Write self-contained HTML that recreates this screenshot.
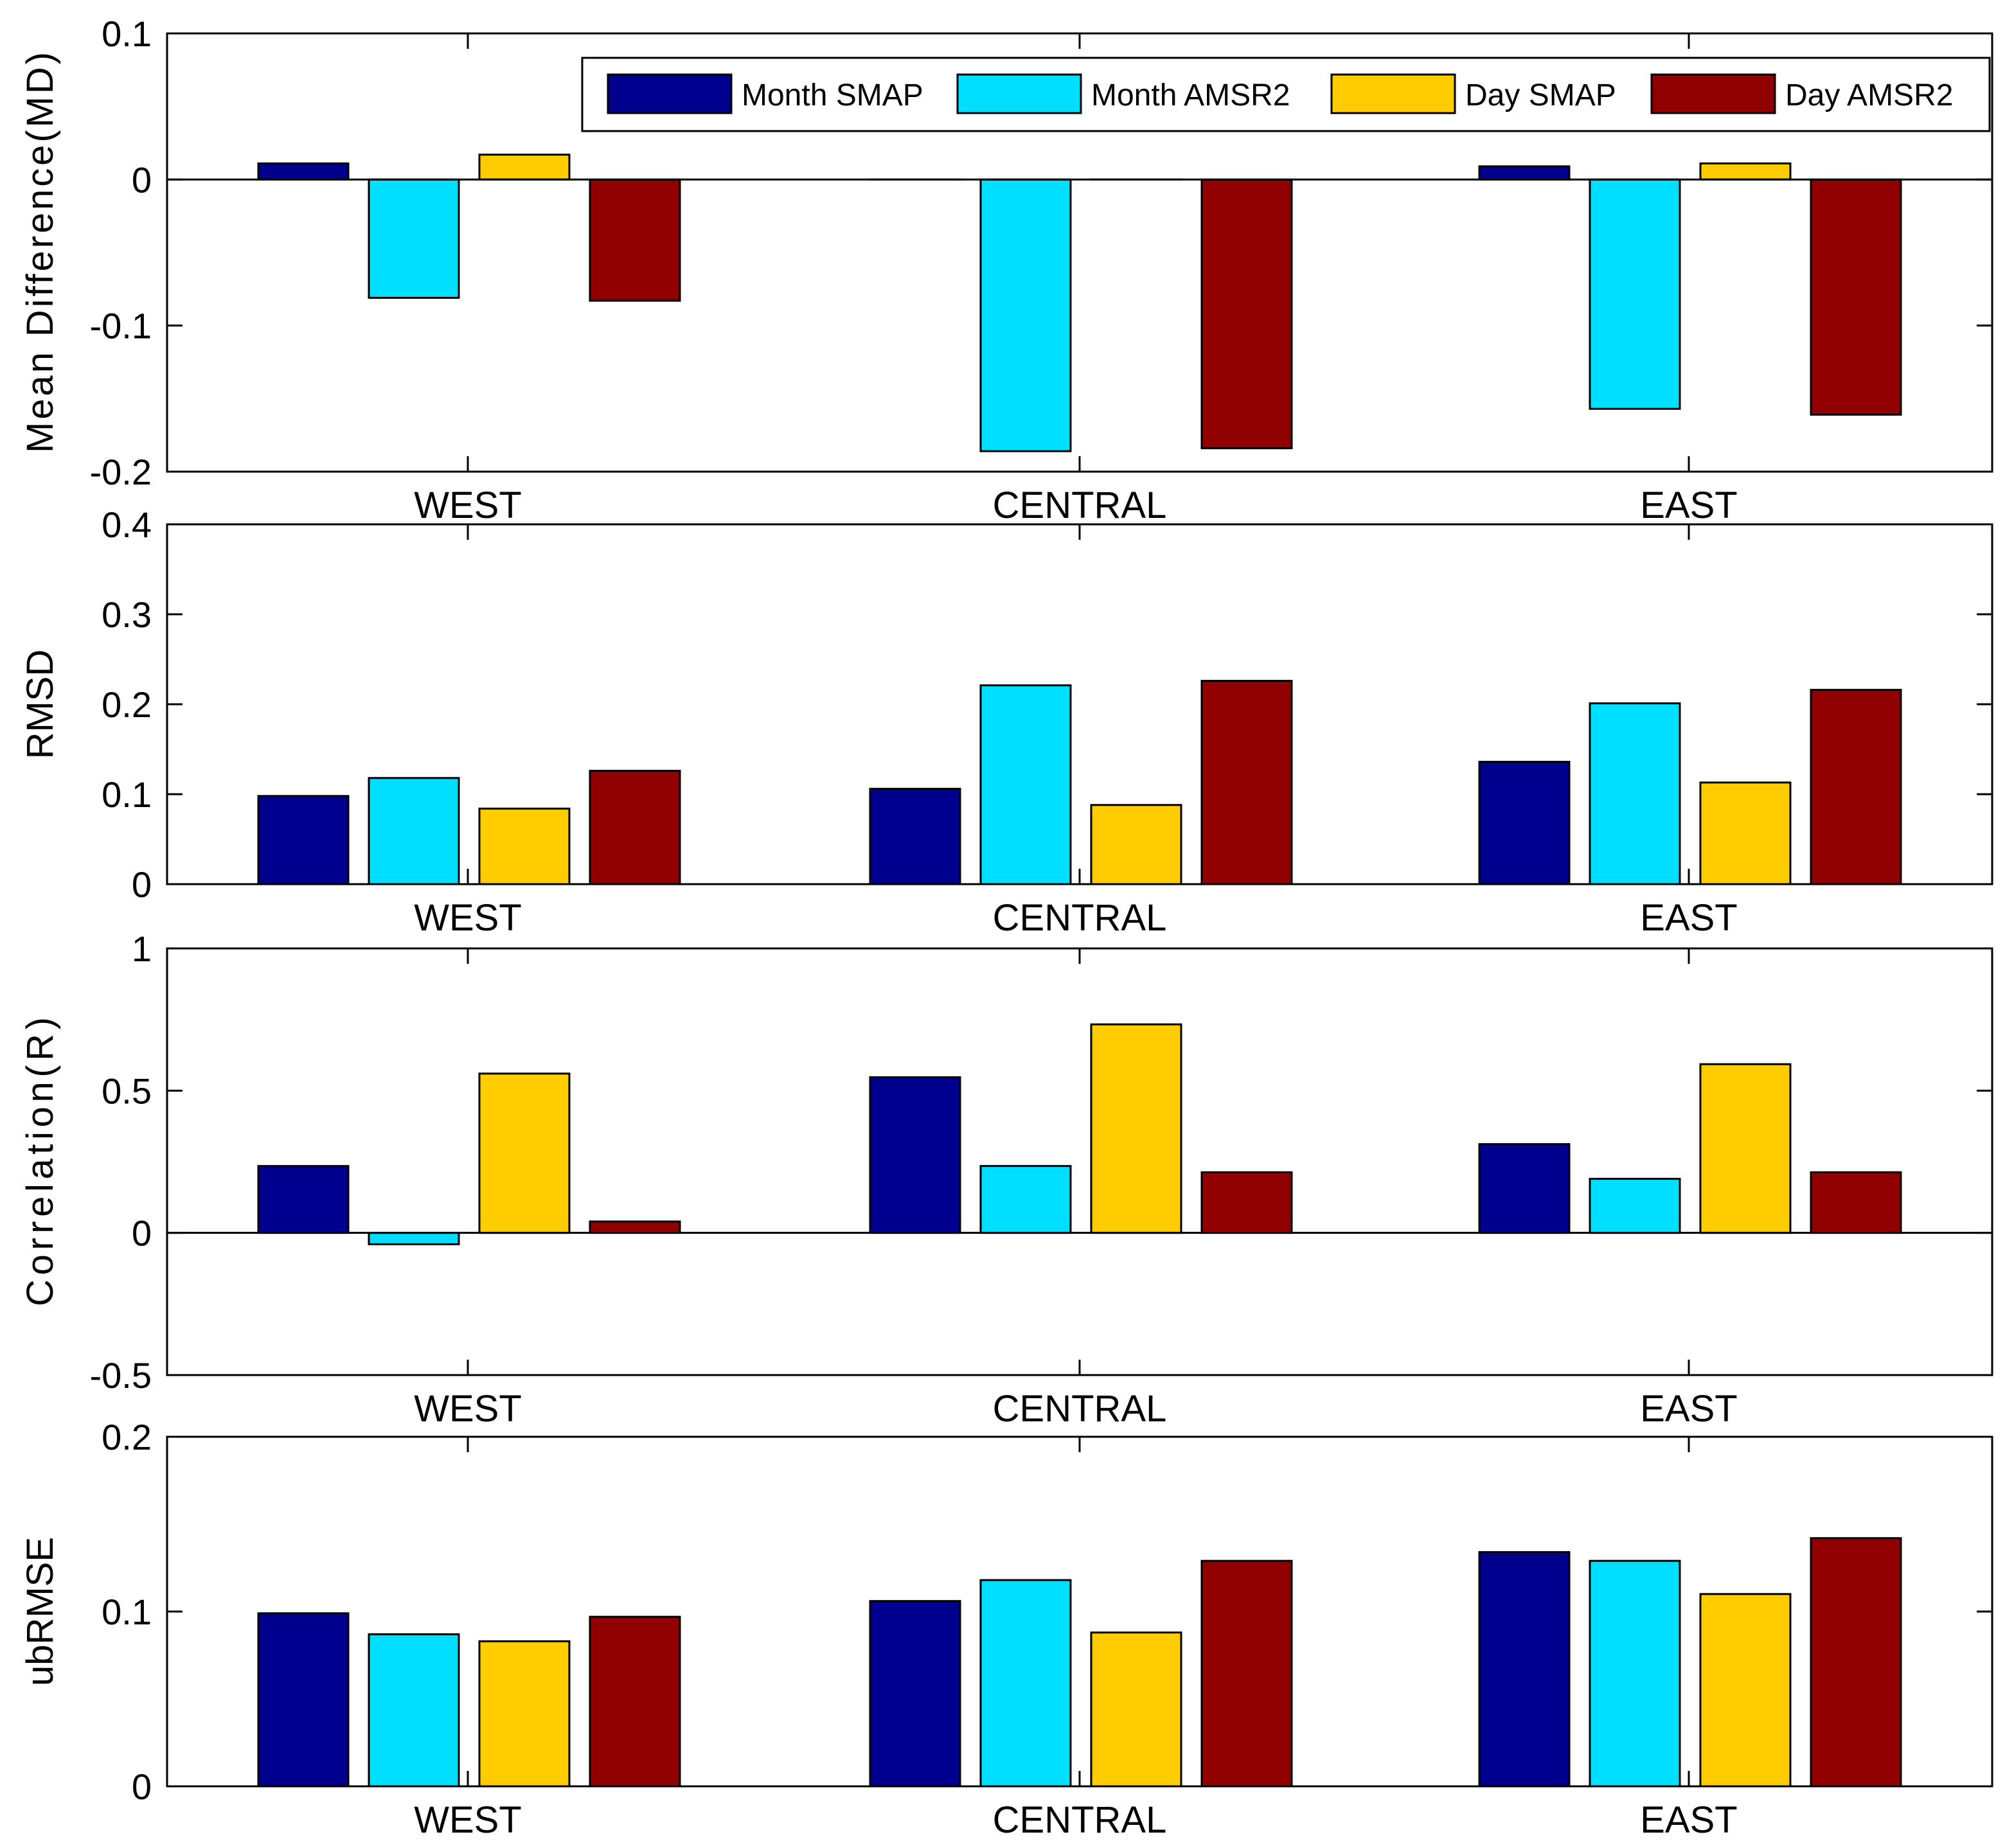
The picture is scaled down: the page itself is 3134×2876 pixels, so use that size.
<!DOCTYPE html>
<html><head><meta charset="utf-8"><style>
html,body{margin:0;padding:0;background:#fff;}
svg{display:block;font-family:"Liberation Sans",Arial,sans-serif;}
</style></head><body>
<svg id="chart" width="3134" height="2876" viewBox="0 0 1567 1438" xmlns="http://www.w3.org/2000/svg"></svg>
<script>
const categories = ["WEST","CENTRAL","EAST"];
const seriesNames = ["Month SMAP","Month AMSR2","Day SMAP","Day AMSR2"];
const seriesColors = ["#00008f","#00dfff","#ffcc00","#900000"];
const mdValues = [[0.011,0,0.009],[-0.081,-0.186,-0.157],[0.017,0,0.011],[-0.083,-0.184,-0.161]];
const rmsdValues = [[0.098,0.106,0.136],[0.118,0.221,0.201],[0.084,0.088,0.113],[0.126,0.226,0.216]];
const corrValues = [[0.235,0.547,0.312],[-0.04,0.235,0.19],[0.56,0.733,0.593],[0.04,0.213,0.213]];
const ubValues = [[0.099,0.106,0.134],[0.087,0.118,0.129],[0.083,0.088,0.11],[0.097,0.129,0.142]];
const mdTicks = [0.1,0,-0.1,-0.2];
const rmsdTicks = [0.4,0.3,0.2,0.1,0];
const corrTicks = [1,0.5,0,-0.5];
const ubTicks = [0.2,0.1,0];

const NS="http://www.w3.org/2000/svg";
const svg=document.getElementById('chart');
function mk(tag,attrs,parent){const e=document.createElementNS(NS,tag);for(const k in attrs)e.setAttribute(k,attrs[k]);(parent||svg).appendChild(e);return e;}
const L=130,R=1550;
const groupX=[364,840,1314];
const offs=[-128,-42,44,130];
const bw=70;
function xPos(ci,si){return groupX[ci]+offs[si];}

const panels=[
 {name:"md",top:26,bot:367,min:-0.2,max:0.1,ticks:mdTicks,vals:mdValues,label:"Mean Difference(MD)",zero:true,tl:312},
 {name:"rmsd",top:408,bot:688,min:0,max:0.4,ticks:rmsdTicks,vals:rmsdValues,label:"RMSD",zero:false,tl:0},
 {name:"corr",top:738,bot:1070,min:-0.5,max:1,ticks:corrTicks,vals:corrValues,label:"Correlation(R)",zero:true,tl:225},
 {name:"ubrmse",top:1118,bot:1390,min:0,max:0.2,ticks:ubTicks,vals:ubValues,label:"ubRMSE",zero:false,tl:0}
];
panels.forEach(p=>{
 const g=mk('g',{});
 
 
 const y=v=>p.bot-(v-p.min)/(p.max-p.min)*(p.bot-p.top);
 for(let s=0;s<4;s++)for(let c=0;c<3;c++){
  const v=p.vals[s][c];const y0=y(0),y1=y(v);
  const r=mk('rect',{x:xPos(c,s)-bw/2,y:Math.min(y0,y1),width:bw,height:Math.max(Math.abs(y1-y0),0.01),fill:seriesColors[s],stroke:"#000","stroke-width":1.5},g);
  
  
 }
 if(p.zero){mk('line',{x1:L,x2:R,y1:y(0),y2:y(0),stroke:"#000","stroke-width":1.5},g);}
 const ax=mk('rect',{x:L,y:p.top,width:R-L,height:p.bot-p.top,fill:"none",stroke:"#000","stroke-width":1.5},g);
 
 
 p.ticks.forEach(t=>{
  const ty=y(t);
  mk('line',{x1:L,x2:L+12,y1:ty,y2:ty,stroke:"#000","stroke-width":1.5},g);
  mk('line',{x1:R-12,x2:R,y1:ty,y2:ty,stroke:"#000","stroke-width":1.5},g);
  const tx=mk('text',{x:118,y:ty+10,"text-anchor":"end","font-size":28},g);
  tx.textContent=String(t);
  
  
 });
 categories.forEach((c,i)=>{
  mk('line',{x1:groupX[i],x2:groupX[i],y1:p.bot,y2:p.bot-12,stroke:"#000","stroke-width":1.5},g);
  mk('line',{x1:groupX[i],x2:groupX[i],y1:p.top,y2:p.top+12,stroke:"#000","stroke-width":1.5},g);
  const tx=mk('text',{x:groupX[i],y:p.bot+36,"text-anchor":"middle","font-size":29},g);
  tx.textContent=c;
  
  
 });
 const yl=mk('text',{x:0,y:0,"text-anchor":"middle","font-size":29,transform:`translate(41,${(p.top+p.bot)/2}) rotate(-90)`},g);
 if(p.tl)yl.setAttribute('textLength',p.tl);
 yl.textContent=p.label;
 
 
});
// legend
const lg=mk('g',{});


mk('rect',{x:453,y:45,width:1095,height:57,fill:"#fff",stroke:"#000","stroke-width":1.5},lg);
const swX=[473,745,1036,1285];
seriesNames.forEach((n,i)=>{
 const e=mk('g',{},lg);
 
 
 mk('rect',{x:swX[i],y:58,width:96,height:30,fill:seriesColors[i],stroke:"#000","stroke-width":1.5},e);
 const t=mk('text',{x:swX[i]+104,y:82,"font-size":24},e);
 t.textContent=n;
});
</script>
</body></html>
